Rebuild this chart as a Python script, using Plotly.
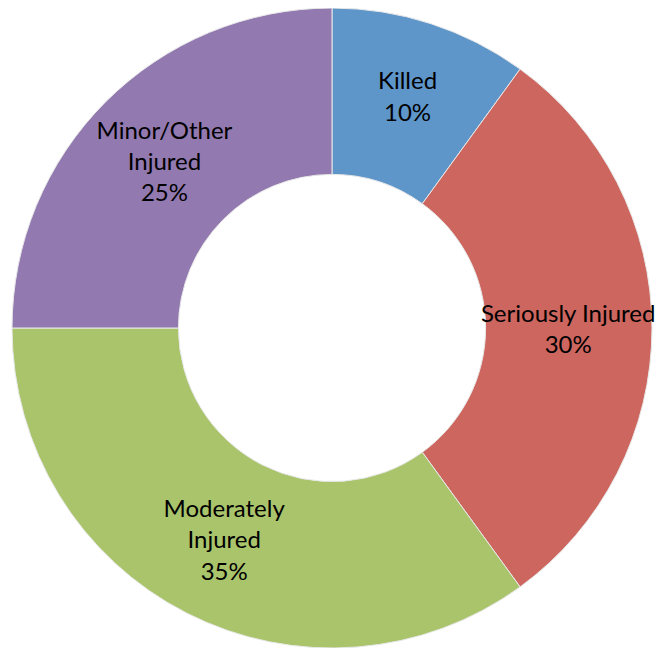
import plotly.graph_objects as go

categories = ['Killed', 'Seriously Injured', 'Moderately Injured', 'Minor/Other Injured']
label_text = ['Killed', 'Seriously Injured', 'Moderately<br>Injured', 'Minor/Other<br>Injured']
values = [10, 30, 35, 25]
colors = ['#5E96CA', '#CD665F', '#AAC46C', '#9279B0']

# page body has an 8px margin, so the domain is nudged up/left to compensate
fig = go.Figure(go.Pie(
    labels=categories,
    values=values,
    text=label_text,
    texttemplate='%{text}<br>%{percent:.0%}',
    textposition='inside',
    insidetextorientation='horizontal',
    hole=0.48,
    sort=False,
    direction='clockwise',
    rotation=0,
    marker=dict(colors=colors, line=dict(color='#E8E8E8', width=1)),
    textfont=dict(family='Lato', size=24, color='black'),
    domain=dict(x=[4 / 666, 644 / 666], y=[8 / 648, 1]),
    showlegend=False,
))

fig.update_layout(
    width=666,
    height=648,
    margin=dict(l=0, r=0, t=0, b=0),
    paper_bgcolor='white',
    uniformtext=dict(minsize=24, mode='show'),
)

fig.write_html('out.html')
